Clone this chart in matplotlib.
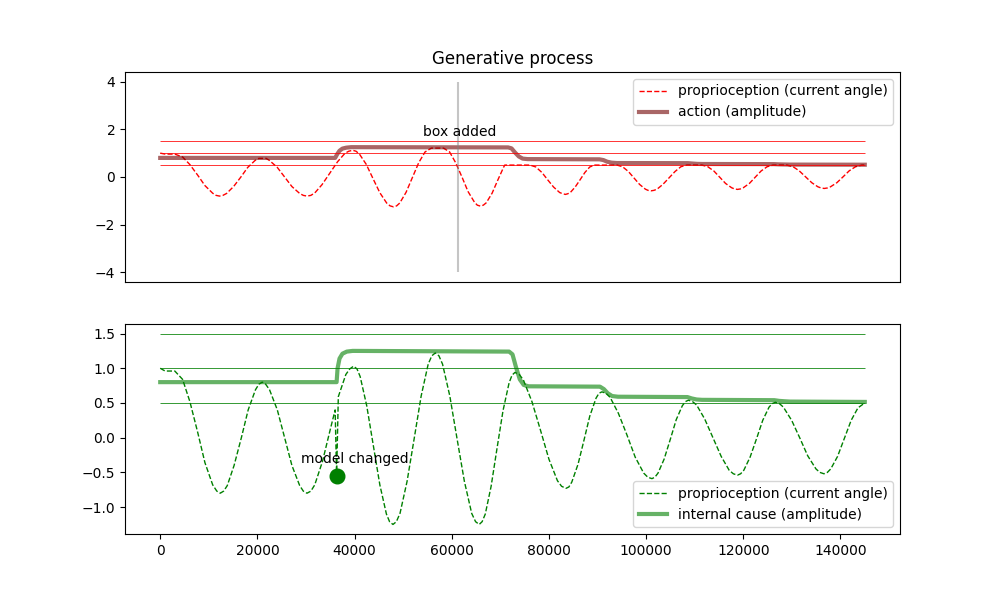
import matplotlib
matplotlib.use('Agg')
import matplotlib.pyplot as plt

# proprioception in the generative process (top), peaks held at 0.5 once the box is there
t_angle = [0, 1000, 2000,
           3000, 4600, 6100, 7700, 9200, 10800, 11500,
           12200, 12900, 13650, 15100, 16600, 18000, 19500,
           20300, 21800,
           22500, 24100, 25600, 27100, 28700, 29450,
           30200, 31000, 31800, 33300, 34900, 36500, 38000, 38800,
           39600, 40300, 41000, 42400, 43800, 45200, 46600, 47300,
           48000, 48650, 49300, 50600, 51900, 53200, 54500,
           55800, 58300, 59550, 60800, 62100, 63350, 64650, 65250,
           65900, 66500, 67100, 68300, 69450, 70650, 70900,
           76100, 77300, 78550, 79750, 80950, 82200, 82800,
           83400, 83900, 84400, 85400, 86400, 87400, 88400,
           89400, 94000, 95150, 96350, 97500, 98650, 99850, 100400,
           101000, 101600, 102250, 103450, 104700, 105950, 107150,
           108400, 111500, 112700, 113950, 115150, 116350, 117600, 118200,
           118800, 119400, 120000, 121250, 122450, 123650, 124900,
           126100, 128950, 130250, 131500, 132800, 134100, 135350, 136000,
           136650, 137300, 137950, 139250, 140550, 141800, 143100, 144400, 145000]
angle = [1.00, 0.96, 0.96,
         0.96, 0.84, 0.52, 0.08, -0.36, -0.68, -0.77,
         -0.80, -0.77, -0.69, -0.40, 0.00, 0.40, 0.69,
         0.78, 0.78,
         0.69, 0.40, 0.00, -0.40, -0.69, -0.77,
         -0.80, -0.77, -0.67, -0.32, 0.16, 0.64, 0.99, 1.08,
         1.12, 1.08, 0.96, 0.53, -0.07, -0.66, -1.09, -1.21,
         -1.25, -1.21, -1.09, -0.64, -0.02, 0.60, 1.05,
         1.21, 1.21, 1.05, 0.60, 0.00, -0.61, -1.05, -1.18,
         -1.22, -1.18, -1.08, -0.68, -0.14, 0.40, 0.50,
         0.50, 0.42, 0.19, -0.12, -0.42, -0.65, -0.70,
         -0.73, -0.70, -0.65, -0.42, -0.12, 0.19, 0.42,
         0.50, 0.50, 0.43, 0.23, -0.04, -0.31, -0.51, -0.56,
         -0.58, -0.56, -0.51, -0.31, -0.04, 0.23, 0.43,
         0.50, 0.50, 0.43, 0.25, -0.01, -0.27, -0.45, -0.50,
         -0.52, -0.50, -0.45, -0.27, -0.01, 0.25, 0.43,
         0.50, 0.50, 0.43, 0.26, 0.01, -0.24, -0.41, -0.46,
         -0.48, -0.46, -0.41, -0.24, 0.01, 0.26, 0.43, 0.50, 0.50]

# proprioception as seen by the model (bottom), with the glitch at the model change
t_sensed = [0, 1000, 2000,
            3000, 4600, 6100, 7700, 9200, 10800, 11650,
            12350, 13050, 13800, 15200, 16700, 18100, 19600, 20300,
            21000, 21700, 22500, 24100, 25600, 27100, 28700, 29450,
            30200, 31000, 31800, 33400, 35000, 36000, 36300, 36650, 38200, 39000,
            39800, 40500, 41150, 42500, 43850, 45200, 46550, 47200,
            47900, 48600, 49350, 50800, 52250, 53700, 55150, 55900,
            56600, 57350, 58100, 59600, 61100, 62600, 64100, 64900,
            65650, 66250, 66900, 68100, 69300, 70550, 71800, 72400,
            73000, 73900, 74750, 76500, 78250, 80000, 81750, 82600,
            83500, 84100, 84700, 86000, 87200, 88400, 89700, 90300,
            90900, 91750, 92600, 94300, 96050, 97750, 99500, 100350,
            101200, 101800, 102450, 103700, 104950, 106200, 107450, 108100,
            108700, 109550, 110400, 112050, 113750, 115450, 117100, 117950,
            118800, 119450, 120100, 121400, 122700, 124000, 125300, 125950,
            126600, 127450, 128250, 129950, 131600, 133250, 134950, 135750,
            136600, 137300, 138000, 139400, 140800, 142200, 143600, 145000]
sensed = [1.00, 0.96, 0.96,
          0.96, 0.84, 0.52, 0.08, -0.36, -0.68, -0.77,
          -0.80, -0.77, -0.69, -0.40, 0.00, 0.40, 0.69, 0.77,
          0.80, 0.77, 0.69, 0.40, 0.00, -0.40, -0.69, -0.77,
          -0.80, -0.77, -0.68, -0.34, 0.12, 0.40, -0.55, 0.59, 0.91, 0.99,
          1.03, 0.99, 0.88, 0.46, -0.11, -0.68, -1.10, -1.21,
          -1.25, -1.21, -1.09, -0.63, -0.02, 0.60, 1.06, 1.18,
          1.22, 1.18, 1.06, 0.60, -0.02, -0.63, -1.09, -1.21,
          -1.25, -1.21, -1.10, -0.70, -0.16, 0.39, 0.79, 0.90,
          0.94, 0.91, 0.83, 0.52, 0.11, -0.31, -0.62, -0.70,
          -0.73, -0.71, -0.64, -0.38, -0.04, 0.31, 0.57, 0.64,
          0.66, 0.64, 0.58, 0.35, 0.04, -0.28, -0.51, -0.57,
          -0.59, -0.57, -0.51, -0.31, -0.03, 0.26, 0.46, 0.52,
          0.54, 0.52, 0.47, 0.27, 0.00, -0.27, -0.47, -0.52,
          -0.54, -0.52, -0.47, -0.28, -0.02, 0.25, 0.44, 0.49,
          0.51, 0.49, 0.44, 0.25, 0.00, -0.26, -0.45, -0.50,
          -0.52, -0.50, -0.45, -0.27, -0.01, 0.25, 0.43, 0.50]

t_action = [0, 36000, 36400, 36900, 37500, 38300, 39300,
            71600, 72300, 73000, 73800, 74600, 75600,
            90400, 91200, 92000, 92900, 94000,
            108600, 109500, 110500, 111600,
            126300, 127300, 128400, 129600, 145000]
action = [0.80, 0.80, 0.95, 1.10, 1.19, 1.23, 1.25,
          1.24, 1.20, 1.03, 0.86, 0.77, 0.75,
          0.74, 0.71, 0.64, 0.60, 0.585,
          0.58, 0.565, 0.55, 0.545,
          0.54, 0.53, 0.525, 0.52, 0.515]

t_cause = [0, 36300, 36500, 36900, 37500, 38400, 39600,
           71800, 72500, 73200, 74000, 74800, 75800,
           90500, 91300, 92100, 93000, 94200,
           108500, 109400, 110400, 111500,
           126400, 127400, 128400, 129600, 145000]
cause = [0.80, 0.80, 1.00, 1.14, 1.21, 1.24, 1.25,
         1.24, 1.20, 1.02, 0.84, 0.76, 0.74,
         0.735, 0.70, 0.64, 0.60, 0.59,
         0.585, 0.565, 0.55, 0.545,
         0.54, 0.53, 0.525, 0.52, 0.515]

levels = [0.5, 1.0, 1.5]
t_end = 145000
box_t = 61350
change_t, change_v = 36300, -0.555


fig = plt.figure(figsize=(10, 6), dpi=100)

# Generative process
ax1 = plt.subplot(211)
plt.title("Generative process")
plt.plot(t_angle, angle, '--', color='red', lw=1,
         label="proprioception (current angle)")
plt.plot(t_action, action, color='#700000', alpha=0.6, lw=3,
         label="action (amplitude)")
plt.hlines(levels, 0, t_end, color='red', lw=0.7, alpha=0.8)
plt.vlines(box_t, -4, 4, color='grey', alpha=0.45, lw=1.5)
plt.text(box_t + 300, 1.73, "box added", ha='center')
plt.xticks([])
plt.legend(loc='upper right')

# Internal model
ax2 = plt.subplot(212)
plt.plot(t_sensed, sensed, '--', color='green', lw=1,
         label="proprioception (current angle)")
plt.plot(t_cause, cause, color='green', alpha=0.6, lw=3,
         label="internal cause (amplitude)")
plt.hlines(levels, 0, t_end, color='green', lw=0.7, alpha=0.8)
plt.plot([change_t], [change_v], 'o', color='green', ms=10.5)
plt.text(40000, -0.36, "model changed", ha='center')
plt.legend(loc='lower right')

plt.savefig('out.png', dpi=100)
